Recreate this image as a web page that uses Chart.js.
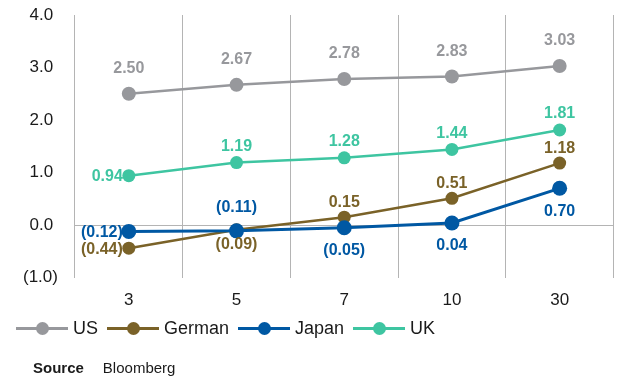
<!DOCTYPE html>
<html>
<head>
<meta charset="utf-8">
<script src="https://cdn.jsdelivr.net/npm/chart.js@4.4.1/dist/chart.umd.min.js"></script>
<style>
  html, body { margin: 0; padding: 0; background: #fff; }
  body { width: 621px; height: 378px; position: relative; overflow: hidden;
         font-family: "Liberation Sans", Arial, sans-serif; color: #1a1a1a; }
  #wrap { position: absolute; left: 0; top: 0; width: 621px; height: 378px; }
  #legend { position: absolute; left: 16px; top: 318px; display: flex; align-items: center; font-size: 18px; }
  .item { display: flex; align-items: center; margin-right: 9px; }
  .swatch { position: relative; width: 52px; height: 3px; margin-right: 5px; }
  .swatch i { position: absolute; left: 20px; top: -5px; width: 13px; height: 13px; border-radius: 50%; }
  #source { position: absolute; left: 33px; top: 359px; font-size: 15px; }
  #source b { margin-right: 19px; }
</style>
</head>
<body>
<div id="wrap"><canvas id="curve"></canvas></div>
<div id="legend"></div>
<div id="source"><b>Source</b>Bloomberg</div>
<script>
// Maturities (years) and yields per market
const maturities = ['3', '5', '7', '10', '30'];
const us     = [2.50, 2.67, 2.78, 2.83, 3.03];
const german = [-0.44, -0.09, 0.15, 0.51, 1.18];
const japan  = [-0.12, -0.11, -0.05, 0.04, 0.70];
const uk     = [0.94, 1.19, 1.28, 1.44, 1.81];
const yTicks = [-1, 0, 1, 2, 3, 4];

// where each value label sits relative to its point
const usPos     = ['top', 'top', 'top', 'top', 'top'];
const germanPos = ['left', 'bottom', 'top', 'top', 'top'];
const japanPos  = ['left', 'top', 'bottom', 'bottom', 'bottom'];
const ukPos     = ['left', 'top', 'top', 'top', 'top'];

const FONT = '"Liberation Sans", Arial, sans-serif';

function fmt(v, d) {
  return v < 0 ? '(' + Math.abs(v).toFixed(d) + ')' : v.toFixed(d);
}

function series(label, data, color, radius, width, pos, gap, order) {
  return {
    label: label,
    data: data,
    borderColor: color,
    backgroundColor: color,
    pointBackgroundColor: color,
    pointBorderColor: color,
    pointBorderWidth: 0,
    pointRadius: radius,
    pointHoverRadius: radius,
    borderWidth: width,
    tension: 0,
    order: order,
    labelPos: pos,
    labelGap: gap
  };
}

const datasets = [
  series('US', us, '#97989c', 7, 2.5, usPos, 25, 3),
  series('German', german, '#7a6228', 6.5, 2.5, germanPos, 15, 2),
  series('Japan', japan, '#0058a3', 7.5, 3, japanPos, 23, 1),
  series('UK', uk, '#3ec5a1', 6.5, 2.5, ukPos, 16, 4)
];

// draws the value next to every point
const valueLabels = {
  id: 'valueLabels',
  afterDatasetsDraw(chart) {
    const ctx = chart.ctx;
    ctx.save();
    ctx.font = 'bold 16px ' + FONT;
    ctx.textBaseline = 'middle';
    chart.data.datasets.forEach((ds, i) => {
      const meta = chart.getDatasetMeta(i);
      ctx.fillStyle = ds.borderColor;
      meta.data.forEach((pt, j) => {
        const text = fmt(ds.data[j], 2);
        const pos = ds.labelPos[j];
        if (pos === 'left') {
          ctx.textAlign = 'right';
          ctx.fillText(text, pt.x - 6, pt.y + 1);
        } else {
          ctx.textAlign = 'center';
          const dy = pos === 'top' ? -ds.labelGap : ds.labelGap;
          ctx.fillText(text, pt.x, pt.y + dy);
        }
      });
    });
    ctx.restore();
  }
};

new Chart(document.getElementById('curve'), {
  type: 'line',
  data: { labels: maturities, datasets: datasets },
  options: {
    responsive: true,
    maintainAspectRatio: false,
    animation: false,
    layout: { padding: { left: 6, right: 3, top: 15, bottom: 54 } },
    plugins: { legend: { display: false }, tooltip: { enabled: false } },
    scales: {
      x: {
        offset: true,
        grid: { offset: true, color: '#b4b4b4', lineWidth: 1, drawTicks: false },
        border: { display: false },
        ticks: { color: '#1a1a1a', font: { family: FONT, size: 17 }, padding: 13 }
      },
      y: {
        min: -1,
        max: 4,
        afterBuildTicks: axis => { axis.ticks = yTicks.map(v => ({ value: v })); },
        // keep the label gap from growing the top/bottom margins
        afterFit: axis => { axis.paddingTop = 10; axis.paddingBottom = 10; },
        grid: {
          color: c => (c.tick && c.tick.value === 0 ? '#b4b4b4' : 'rgba(0,0,0,0)'),
          lineWidth: 1,
          drawTicks: false
        },
        border: { display: false },
        ticks: {
          color: '#1a1a1a',
          font: { family: FONT, size: 17 },
          padding: 17,
          callback: v => (v < 0 ? fmt(v, 1) : v.toFixed(1) + ' ')
        }
      }
    }
  },
  plugins: [valueLabels]
});

// legend: line with a dot, then the market name
const legend = document.getElementById('legend');
datasets.forEach(ds => {
  const item = document.createElement('div');
  item.className = 'item';
  const sw = document.createElement('span');
  sw.className = 'swatch';
  sw.style.background = ds.borderColor;
  const dot = document.createElement('i');
  dot.style.background = ds.borderColor;
  sw.appendChild(dot);
  item.appendChild(sw);
  item.appendChild(document.createTextNode(ds.label));
  legend.appendChild(item);
});
</script>
</body>
</html>
